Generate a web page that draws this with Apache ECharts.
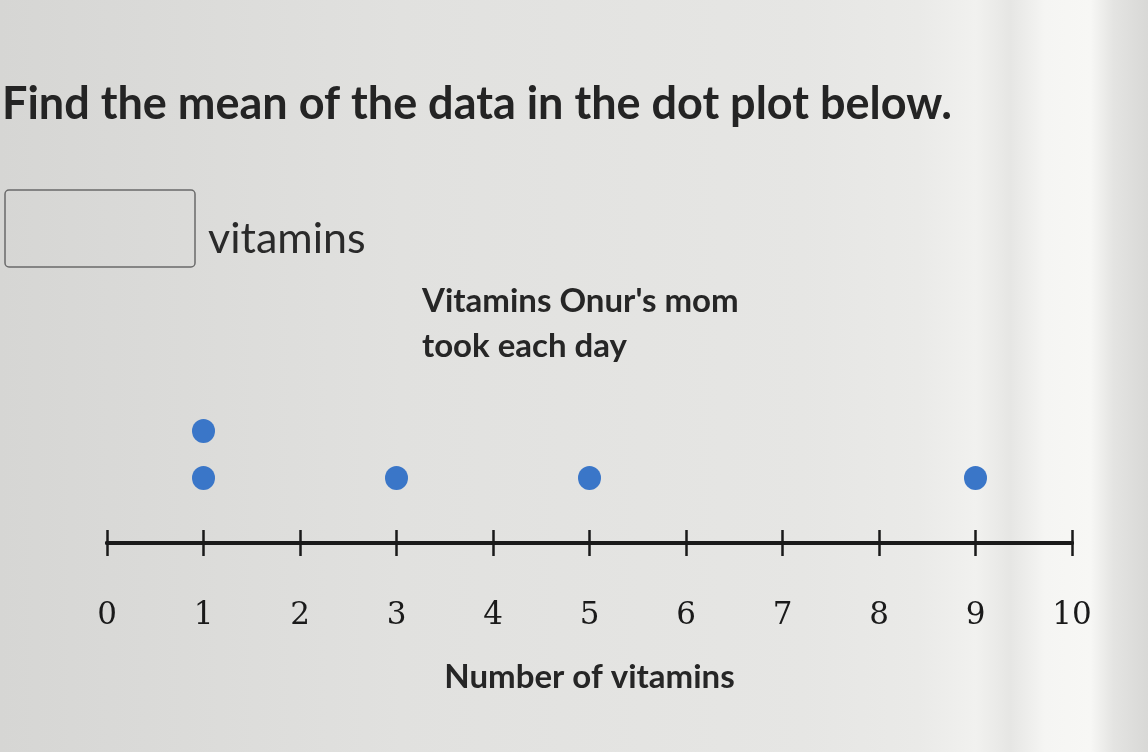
<!DOCTYPE html>
<html>
<head>
<meta charset="utf-8">
<script src="https://cdn.jsdelivr.net/npm/echarts@6/dist/echarts.min.js"></script>
<style>
  html, body { margin: 0; padding: 0; }
  body {
    background: linear-gradient(90deg, #d6d6d4 0%, #e1e1df 35%, #e6e6e4 70%, #eaeae8 80%, #f1f1ef 85%, #e6e6e4 88%, #f5f5f3 91%, #f7f7f5 95%, #e4e4e2 97%, #d8d8d6 100%);
  }
  #chart { width: 1148px; height: 752px; }
</style>
</head>
<body>
<div id="chart"></div>
<script>
// dot plot data: value and stack level of each dot
const dotValues = [1, 1, 3, 5, 9]
const dotLevels = [1, 2, 1, 1, 1]
const tickValues = [0, 1, 2, 3, 4, 5, 6, 7, 8, 9, 10]

const chart = echarts.init(document.getElementById('chart'))

const axisLineStyle = { show: true, onZero: false, lineStyle: { color: '#1a1a1a', width: 4 } }
const tickStyle = { color: '#1a1a1a', width: 2.5 }

chart.setOption({
  backgroundColor: 'transparent',
  animation: false,
  title: {
    text: "Vitamins Onur's mom\ntook each day",
    left: 422,
    top: 279,
    padding: 0,
    textStyle: {
      fontFamily: 'Lato',
      fontWeight: 'bold',
      fontSize: 33,
      lineHeight: 45,
      color: '#262626'
    }
  },
  graphic: [
    {
      type: 'text',
      left: 2,
      top: 82,
      style: {
        text: 'Find the mean of the data in the dot plot below.',
        font: 'bold 45px Lato',
        fill: '#242424'
      }
    },
    {
      type: 'rect',
      shape: { x: 5, y: 190, width: 190, height: 77, r: 4 },
      style: { fill: 'rgba(0,0,0,0)', stroke: '#6a6a6a', lineWidth: 1.5 }
    },
    {
      type: 'text',
      left: 208,
      top: 218,
      style: {
        text: 'vitamins',
        font: '43px Lato',
        fill: '#2a2a2a'
      }
    }
  ],
  grid: [
    { left: 107, right: 76, top: 384, bottom: 209 },
    // second grid only carries the upper half of the crossing ticks
    { left: 107, right: 76, top: 543, bottom: 100 }
  ],
  xAxis: [
    {
      type: 'value',
      gridIndex: 0,
      min: 0,
      max: 10,
      interval: 1,
      position: 'bottom',
      splitLine: { show: false },
      axisLine: axisLineStyle,
      name: 'Number of vitamins',
      nameLocation: 'middle',
      nameGap: 118,
      nameTextStyle: { fontFamily: 'Lato', fontWeight: 'bold', fontSize: 33, color: '#262626' },
      axisTick: { show: true, inside: false, length: 13, lineStyle: tickStyle },
      axisLabel: {
        show: true,
        margin: 57,
        fontFamily: 'DejaVu Serif',
        fontSize: 31,
        color: '#1a1a1a',
        formatter: v => tickValues.includes(v) ? String(v) : ''
      }
    },
    {
      type: 'value',
      gridIndex: 1,
      min: 0,
      max: 10,
      interval: 1,
      position: 'top',
      splitLine: { show: false },
      axisLine: axisLineStyle,
      axisTick: { show: true, inside: false, length: 13, lineStyle: tickStyle },
      axisLabel: { show: false }
    }
  ],
  yAxis: [
    { type: 'value', gridIndex: 0, min: -0.383, max: 3, show: false },
    { type: 'value', gridIndex: 1, min: 0, max: 1, show: false }
  ],
  series: [
    {
      type: 'scatter',
      xAxisIndex: 0,
      yAxisIndex: 0,
      symbol: 'circle',
      symbolSize: [23, 24],
      itemStyle: { color: '#3a76c8', opacity: 1 },
      data: dotValues.map((v, i) => [v, dotLevels[i]])
    }
  ]
})
</script>
</body>
</html>
